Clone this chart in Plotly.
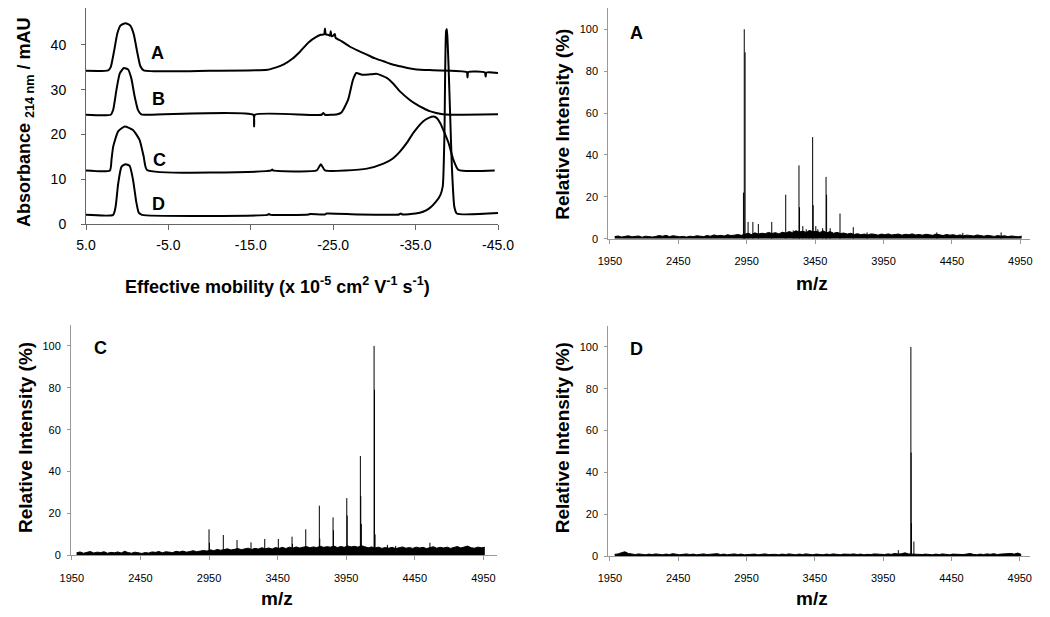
import plotly.graph_objects as go

# ---------------- Electropherograms (top-left) ----------------
mob_A = [5.0, 2.3, 2.0, 1.6, 1.2, 0.8, 0.2, -0.4, -0.8, -1.2, -1.6, -2.0, -10.0, -17.0, -18.0, -19.0, -20.0,
         -21.0, -22.0, -23.0, -23.5, -23.9, -24.0, -24.1, -24.4, -24.6, -24.7, -24.8, -25.0, -25.2, -25.3,
         -26.0, -27.0, -28.0, -29.1, -30.0, -31.1, -32.0, -33.1, -34.0, -35.1, -37.1, -41.2, -41.3, -41.4,
         -43.4, -43.5, -43.6, -45.0]
abs_A = [34.2, 34.3, 35.0, 38.5, 42.5, 44.3, 44.8, 44.2, 42.3, 38.5, 35.2, 34.3, 34.2, 34.4, 34.9, 35.6, 36.8,
         38.5, 40.5, 41.8, 42.2, 42.3, 43.6, 42.3, 42.2, 42.0, 43.0, 41.9, 42.0, 42.4, 41.5,
         40.8, 39.6, 38.7, 37.8, 37.0, 36.3, 35.7, 35.2, 34.8, 34.5, 34.3, 33.9, 32.7, 33.9,
         33.8, 32.9, 33.8, 33.7]

mob_B = [5.0, 2.0, 1.7, 1.3, 0.9, 0.4, -0.1, -0.5, -0.9, -1.3, -1.7, -2.2, -15.3, -15.4, -15.5, -23.6, -23.8,
         -24.0, -25.5, -26.0, -26.8, -27.4, -27.8, -28.5, -29.5, -30.3, -31.5, -32.3, -33.1, -34.3, -35.1,
         -35.9, -36.7, -37.5, -38.3, -39.2, -45.0]
abs_B = [24.4, 24.4, 25.5, 30.0, 33.6, 34.8, 34.5, 32.5, 28.5, 25.5, 24.5, 24.4, 24.4, 21.8, 24.4, 24.4, 24.8,
         24.4, 24.5, 24.9, 27.7, 32.2, 33.7, 33.3, 33.4, 33.5, 32.6, 31.3, 29.6, 27.7, 26.7,
         25.9, 25.2, 24.8, 24.5, 24.4, 24.5]

mob_C = [5.0, 2.1, 1.9, 1.7, 1.1, 0.3, -0.7, -1.5, -2.0, -2.4, -17.5, -17.6, -17.7, -23.0, -23.5, -24.0,
         -29.1, -31.1, -32.2, -33.1, -34.0, -34.7, -35.9, -36.6, -37.2, -37.6, -38.0, -38.5, -39.0, -39.6,
         -40.2, -44.6]
abs_C = [12.0, 12.0, 14.5, 17.3, 20.7, 21.8, 21.0, 18.8, 15.1, 12.1, 12.0, 12.2, 12.0, 12.0, 13.4, 12.0,
         12.4, 13.5, 14.6, 16.2, 18.3, 20.3, 22.9, 23.7, 24.0, 23.6, 22.5, 20.4, 18.1, 14.3,
         12.1, 12.0]

mob_D = [5.0, 1.7, 1.4, 1.1, 0.7, 0.2, -0.3, -0.7, -1.1, -1.4, -1.8, -17.0, -17.2, -17.4, -22.0, -22.2,
         -24.0, -24.2, -28.0, -33.0, -33.2, -33.4, -35.0, -35.9, -36.7, -37.5, -38.0, -38.3, -38.5, -38.7,
         -38.8, -38.9, -39.0, -39.2, -39.4, -39.7, -40.0, -45.0]
abs_D = [2.1, 2.1, 4.0, 9.0, 12.8, 13.4, 13.0, 10.0, 5.0, 2.6, 2.1, 2.1, 2.3, 2.1, 2.2, 2.3, 2.2, 2.4, 2.2,
         2.2, 2.4, 2.2, 2.4, 2.8, 3.6, 5.1, 6.5, 8.5, 20.0, 43.0, 43.5, 40.0, 35.2, 24.0, 12.9, 3.9, 2.4, 2.5]

trace_labels = ["A", "B", "C", "D"]
label_mob = [-3.7, -3.8, -3.9, -3.8]
label_abs = [38.1, 27.9, 14.3, 4.5]

mob_ticks = [5.0, -5.0, -15.0, -25.0, -35.0, -45.0]
abs_ticks = [0, 10, 20, 30, 40]

# ---------------- Mass spectra ----------------
mz_ticks = [1950, 2450, 2950, 3450, 3950, 4450, 4950]
int_ticks = [0, 20, 40, 60, 80, 100]

# baseline noise sampled every 25 m/z from 1985 to 4960
noise_mz = list(range(1985, 4961, 25))
noise_A = [1.0, 1.3, 0.8, 1.2, 1.4, 0.9, 1.1, 1.3, 0.7, 1.2,
           1.0, 0.8, 1.1, 1.5, 1.2, 1.6, 1.0, 1.4, 1.2, 0.9,
           1.1, 0.8, 1.2, 1.0, 1.4, 1.3, 1.0, 1.5, 1.2, 1.8,
           1.4, 1.6, 1.3, 1.9, 1.5, 1.7, 2.0, 1.6, 2.2, 2.6,
           2.0, 2.8, 2.2, 2.6, 2.4, 3.0, 2.5, 2.9, 2.3, 3.1,
           2.7, 3.4, 2.9, 3.8, 3.2, 3.6, 3.0, 3.9, 3.3, 3.5,
           3.0, 3.7, 2.8, 3.4, 2.6, 3.0, 2.5, 2.7, 2.2, 2.6,
           2.0, 2.4, 1.9, 2.2, 1.8, 2.3, 2.1, 1.7, 2.2, 1.9,
           2.3, 1.8, 2.0, 2.2, 1.7, 2.1, 1.9, 2.3, 1.8, 2.0,
           1.7, 2.1, 1.9, 1.6, 2.2, 1.8, 1.5, 2.0, 1.7, 1.9,
           1.5, 1.8, 1.4, 1.7, 1.6, 1.3, 1.8, 1.4, 1.2, 1.6,
           1.3, 1.1, 1.5, 1.2, 1.4, 1.0, 1.3, 1.1, 0.9, 1.2]
noise_C = [1.2, 1.6, 1.0, 1.4, 1.8, 1.1, 1.5, 1.3, 1.7, 1.0,
           1.4, 1.2, 1.6, 1.1, 1.9, 1.3, 1.0, 1.5, 1.2, 0.9,
           1.3, 1.1, 1.6, 1.4, 1.8, 1.2, 1.7, 1.5, 1.3, 1.9,
           1.6, 2.0, 1.5, 1.8, 2.2, 1.7, 1.9, 2.3, 2.0, 2.6,
           2.2, 2.8, 2.4, 2.7, 3.1, 2.5, 2.9, 3.2, 2.7, 3.0,
           3.4, 2.8, 3.3, 3.0, 3.6, 3.1, 3.5, 3.0, 3.7, 3.3,
           3.8, 3.2, 3.9, 3.4, 4.0, 3.5, 3.8, 4.2, 3.6, 4.0,
           3.7, 4.3, 3.8, 4.1, 3.9, 4.4, 3.7, 4.2, 3.8, 4.5,
           4.0, 4.3, 3.9, 4.6, 4.1, 3.6, 4.0, 3.5, 3.9, 3.3,
           3.7, 3.4, 3.8, 3.2, 3.6, 4.0, 3.4, 3.7, 3.3, 3.9,
           3.5, 3.8, 3.2, 3.6, 4.1, 3.4, 3.8, 3.5, 3.9, 3.3,
           3.7, 4.2, 3.5, 3.8, 4.4, 3.6, 3.4, 3.9, 3.6, 3.8]
noise_D = [0.8, 1.0, 1.6, 2.0, 1.2, 0.9, 0.7, 1.0, 0.8, 0.6,
           0.9, 0.7, 1.0, 0.8, 0.6, 0.9, 0.7, 1.1, 0.8, 0.6,
           0.8, 1.0, 0.7, 0.9, 0.6, 0.8, 1.0, 0.7, 0.9, 0.8,
           1.1, 0.7, 0.9, 0.6, 0.8, 1.0, 0.7, 0.9, 0.6, 0.8,
           0.7, 0.9, 0.6, 0.8, 1.0, 0.7, 0.9, 0.8, 0.6, 0.9,
           0.7, 1.0, 0.8, 0.6, 0.9, 0.7, 1.0, 0.8, 0.6, 0.9,
           0.8, 0.6, 0.9, 0.7, 1.0, 0.8, 0.6, 0.9, 0.7, 0.8,
           1.0, 0.7, 0.9, 0.6, 0.8, 0.7, 1.0, 0.8, 0.9, 0.7,
           1.0, 0.8, 1.2, 0.9, 1.1, 1.5, 1.0, 0.9, 0.8, 1.0,
           0.7, 0.9, 0.8, 0.6, 0.9, 0.7, 1.0, 0.8, 0.6, 0.9,
           0.8, 1.0, 0.7, 0.9, 1.2, 0.8, 0.6, 0.9, 0.7, 1.0,
           0.8, 1.1, 0.7, 0.9, 1.0, 0.8, 1.2, 0.9, 1.4, 0.8]

peaks_A_mz = [2926, 2932, 2938, 2960, 2995, 3035, 3133, 3235, 3290, 3310, 3332, 3336, 3360, 3385, 3405,
              3432, 3436, 3455, 3470, 3505, 3530, 3534, 3560, 3632, 3729, 3830, 4340, 4530, 4810]
peaks_A_int = [22, 100, 89, 8, 8, 7, 8, 21, 4, 3.5, 35, 15, 6, 4.5, 4,
               48.5, 16, 6, 4.5, 5, 29.5, 21, 5, 12, 5.5, 3, 3, 2.8, 3]

peaks_C_mz = [2950, 2953, 3054, 3154, 3256, 3356, 3455, 3555, 3558, 3655, 3754, 3757, 3854, 3857, 3954,
              3957, 4053, 4056, 4060, 4153, 4156, 4160, 4250, 4310, 4560]
peaks_C_int = [12.4, 6, 9.7, 7.3, 6.2, 7.8, 7.8, 8.9, 5.5, 12.4, 23.7, 8, 18.1, 12, 27.3,
               19, 47.4, 28.3, 15, 100, 79, 10, 5, 4.5, 6]

peaks_D_mz = [4061, 4153, 4155, 4157, 4175]
peaks_D_int = [2.8, 100, 49.5, 15.7, 6.9]

panel_labels = ["A", "C", "D"]

# The page body keeps the browser's default 8 px margin, so the figure is sized
# to fill the 1050x617 window exactly and positions are expressed in window pixels.
PAGE_W, PAGE_H, BODY_M = 1050, 617, 8
W, H = PAGE_W - 2 * BODY_M, PAGE_H - 2 * BODY_M
FONT = "Liberation Sans, Arial, Helvetica, sans-serif"


def px_x(p):
    return min(1.0, max(0.0, (p - BODY_M) / W))


def px_y(p):
    return min(1.0, max(0.0, 1 - (p - BODY_M) / H))


def sticks(mz, inten):
    xs, ys = [], []
    for m, v in zip(mz, inten):
        xs += [m, m, None]
        ys += [0, v, None]
    return xs, ys


fig = go.Figure()

for mob, ab in [(mob_A, abs_A), (mob_B, abs_B), (mob_C, abs_C), (mob_D, abs_D)]:
    fig.add_trace(go.Scatter(x=mob, y=ab, mode="lines", xaxis="x", yaxis="y",
                             line=dict(color="black", width=2, shape="spline", smoothing=0.5),
                             showlegend=False, hoverinfo="skip"))

for (nz, pm, pi), (xa, ya) in zip([(noise_A, peaks_A_mz, peaks_A_int),
                                    (noise_C, peaks_C_mz, peaks_C_int),
                                    (noise_D, peaks_D_mz, peaks_D_int)],
                                   [("x2", "y2"), ("x3", "y3"), ("x4", "y4")]):
    fig.add_trace(go.Scatter(x=noise_mz, y=nz, mode="lines", fill="tozeroy", xaxis=xa, yaxis=ya,
                             line=dict(color="black", width=1), fillcolor="black",
                             showlegend=False, hoverinfo="skip"))
    sx, sy = sticks(pm, pi)
    fig.add_trace(go.Scatter(x=sx, y=sy, mode="lines", xaxis=xa, yaxis=ya,
                             line=dict(color="black", width=1), connectgaps=False,
                             showlegend=False, hoverinfo="skip"))

axis_col = "#666666"
ms_axis_col = "#999999"

# top-left y axis: 0 at 224.3 px, 4.49 px per mAU; its top is clipped at the page edge
tl_top_px = 8
tl_ymax = (224.3 - tl_top_px) / 4.49

layout = dict(
    width=W, height=H, margin=dict(l=0, r=0, t=0, b=0, autoexpand=False),
    paper_bgcolor="white", plot_bgcolor="white", showlegend=False,
    font=dict(family=FONT, color="black"),
    xaxis=dict(domain=[px_x(86), px_x(498)], range=[5, -45], anchor="y",
               tickvals=mob_ticks, ticktext=["%.1f" % v for v in mob_ticks],
               showline=True, linecolor=axis_col, linewidth=1, ticks="outside", ticklen=5,
               tickcolor=axis_col, showgrid=False, zeroline=False,
               tickfont=dict(size=14, family=FONT), ticklabelstandoff=3),
    yaxis=dict(domain=[px_y(224.3), px_y(tl_top_px)], range=[0, tl_ymax], anchor="x",
               tickvals=abs_ticks, showline=True, linecolor=axis_col, linewidth=1,
               ticks="outside", ticklen=4, tickcolor=axis_col, showgrid=False, zeroline=False,
               tickfont=dict(size=14, family=FONT), ticklabelstandoff=12),
)

ms_specs = [
    ("xaxis2", "yaxis2", "x2", "y2", (608.3, 1030), (238.7, 8.3), (1938, 5021)),
    ("xaxis3", "yaxis3", "x3", "y3", (71, 497.3), (555.3, 325), (1944, 5051)),
    ("xaxis4", "yaxis4", "x4", "y4", (608.3, 1030), (556, 326), (1938, 5025)),
]
for xk, yk, xr, yr, (xl, xrr), (yb, yt), rng in ms_specs:
    layout[xk] = dict(domain=[px_x(xl), px_x(xrr)], range=list(rng), anchor=yr,
                      tickvals=mz_ticks, showline=True, linecolor=ms_axis_col, linewidth=1,
                      ticks="outside", ticklen=4, tickcolor=ms_axis_col, showgrid=False,
                      zeroline=False, tickfont=dict(size=11, family=FONT), ticklabelstandoff=8)
    layout[yk] = dict(domain=[px_y(yb), px_y(yt)], range=[0, 110], anchor=xr,
                      tickvals=int_ticks, showline=True, linecolor=ms_axis_col, linewidth=1,
                      ticks="outside", ticklen=3, tickcolor=ms_axis_col, showgrid=False,
                      zeroline=False, tickfont=dict(size=11, family=FONT), ticklabelstandoff=4)

fig.update_layout(**layout)

ann = []
bold18 = dict(family=FONT, size=18, color="black", weight="bold")
for t, mx, ay in zip(trace_labels, label_mob, label_abs):
    ann.append(dict(text=t, x=mx, y=ay, xref="x", yref="y", showarrow=False,
                    xanchor="center", yanchor="middle", font=bold18))
ann.append(dict(text="Effective mobility (x 10<sup>-5</sup> cm<sup>2</sup> V<sup>-1</sup> s<sup>-1</sup>)",
                x=px_x(277), y=px_y(285), xref="paper", yref="paper", showarrow=False,
                xanchor="center", yanchor="middle", font=bold18))
ann.append(dict(text="Absorbance <sub>214 nm</sub> / mAU", x=px_x(25), y=px_y(123),
                xref="paper", yref="paper", showarrow=False, textangle=-90,
                xanchor="center", yanchor="middle", font=bold18))
for (cx, cy) in [(561.7, 124), (25, 438), (562.3, 438)]:
    ann.append(dict(text="Relative Intensity (%)", x=px_x(cx), y=px_y(cy), xref="paper", yref="paper",
                    showarrow=False, textangle=-90, xanchor="center", yanchor="middle",
                    font=dict(family=FONT, size=19, color="black", weight="bold")))
for (cx, cy) in [(811.7, 283), (276.7, 598), (811.7, 598)]:
    ann.append(dict(text="m/z", x=px_x(cx), y=px_y(cy), xref="paper", yref="paper",
                    showarrow=False, xanchor="center", yanchor="middle",
                    font=dict(family=FONT, size=19, color="black", weight="bold")))
for t, (cx, cy) in zip(panel_labels, [(636, 33), (100, 348), (636.7, 349.3)]):
    ann.append(dict(text=t, x=px_x(cx), y=px_y(cy), xref="paper", yref="paper",
                    showarrow=False, xanchor="center", yanchor="middle",
                    font=dict(family=FONT, size=18, color="black", weight="bold")))

fig.update_layout(annotations=ann)
fig.write_html("out.html")
